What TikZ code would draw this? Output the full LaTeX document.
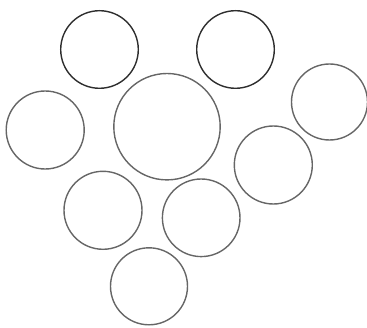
\documentclass[tikz,border=0pt]{standalone}
\begin{document}
\begin{tikzpicture}[x=1pt,y=1pt,
  circ/.style={circle,draw=black!60,line width=1.4pt,inner sep=0pt},
  dark/.style={circ,draw=black!82}]
\useasboundingbox (0,0) rectangle (367,327);
\node[dark,minimum size=77.6pt] (tl) at (99.5,277.5) {};
\node[dark,minimum size=77.6pt] (tr) at (235.5,277.5) {};
\node[circ,minimum size=76pt] (fr) at (329.5,225) {};
\node[circ,minimum size=78pt] (l) at (45.2,197) {};
\node[circ,minimum size=106.4pt] (big) at (167,200.3) {};
\node[circ,minimum size=78pt] (rm) at (273.3,162) {};
\node[circ,minimum size=78pt] (ll) at (103,116.7) {};
\node[circ,minimum size=77.6pt] (lm) at (201.2,109.2) {};
\node[circ,minimum size=77pt] (b) at (149,40.7) {};
\end{tikzpicture}
\end{document}
